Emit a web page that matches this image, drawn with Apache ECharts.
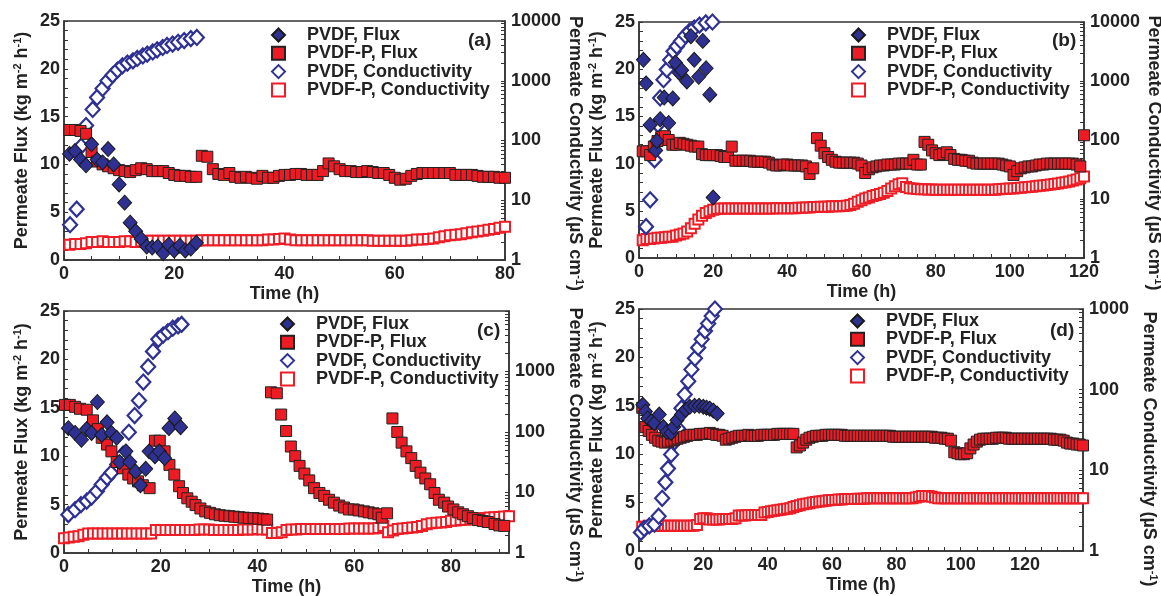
<!DOCTYPE html>
<html><head><meta charset="utf-8">
<script src="https://cdn.jsdelivr.net/npm/echarts@6/dist/echarts.min.js"></script>
<style>html,body{margin:0;padding:0;background:#fff}#c{width:1161px;height:596px}</style>
</head><body><div id="c"></div>
<script>
// ---------- sampling times (h) ----------
const HOURS = [0,1,2,3,4,5,6,7,8,9,10,11,12,13,14,15,16,17,18,19,20,21,22,23,24,25,26,27,28,29,30,31,32,33,34,35,36,37,38,39,40,41,42,43,44,45,46,47,48,49,50,51,52,53,54,55,56,57,58,59,60,61,62,63,64,65,66,67,68,69,70,71,72,73,74,75,76,77,78,79,80,81,82,83,84,85,86,87,88,89,90,91,92,93,94,95,96,97,98,99,100,101,102,103,104,105,106,107,108,109,110,111,112,113,114,115,116,117,118,119,120,121,122,123,124,125,126,127,128,129,130,131,132,133,134,135,136,137,138];

const SERIES_NAMES = ['PVDF, Flux', 'PVDF-P, Flux', 'PVDF, Conductivity', 'PVDF-P, Conductivity'];

// ---------- panel (a) ----------
const aPvdfFluxT = [1,2,3,4,5,6,7,8,9,10,11,12,13,14,15,16,17,18,19,20,21,22,23,24];
const aPvdfFluxV = [11.1,11.4,10.5,9.9,12.1,10.5,10.2,11.6,10.0,7.9,6.0,3.9,3.0,2.2,1.4,1.3,1.4,0.7,1.6,1.0,1.5,1.0,1.2,1.8];
const aPvdfCondT = [1.1,2.3,3.1,4.0,5.2,6.0,7.0,7.9,8.8,9.7,10.6,11.5,12.5,13.3,14.3,15.1,16.1,16.9,17.9,18.7,19.7,20.7,21.8,23.0,24.1];
const aPvdfCondV = [3.9,7.1,80,178,331,525,740,1000,1240,1510,1780,1970,2150,2360,2600,2790,3030,3300,3600,3900,4100,4400,4700,5070,5300];
const aHours = HOURS.slice(1, 81);
const aPvdfPFluxV = [13.6,13.6,13.5,13.2,11.3,10.3,10.0,9.8,9.6,9.4,9.3,9.2,9.4,9.6,9.5,9.3,9.3,9.3,9.1,8.9,8.8,8.8,8.7,8.7,
  10.9,10.8,9.5,9.0,8.9,9.1,8.7,8.6,8.7,8.6,8.5,8.8,8.6,8.6,8.8,8.9,8.9,9.0,9.0,8.9,8.9,8.9,9.3,10.1,9.8,9.5,9.3,9.3,9.2,9.2,
  9.3,9.2,9.1,9.1,8.9,8.6,8.4,8.5,8.8,9.0,9.1,9.1,9.1,9.1,9.1,9.1,8.9,8.9,8.9,8.9,8.8,8.7,8.7,8.7,8.6,8.6];
const aPvdfPCondV = [1.8,1.85,1.85,1.9,
  2.0,2.0,2.05,2.0,2.0,2.0,2.05,2.05,2.0,2.05,2.1,2.1,2.1,2.1,2.1,2.1,2.1,2.1,2.1,2.1,
  2.15,2.15,2.15,2.15,2.15,2.15,2.15,2.15,2.15,2.15,2.15,2.15,2.2,2.2,
  2.25,2.3,2.2,2.15,2.15,2.15,2.15,2.15,2.15,2.15,2.15,2.15,2.15,2.15,2.15,2.15,2.15,2.1,2.1,2.1,2.1,2.1,2.1,2.1,2.15,
  2.2,2.2,2.25,2.3,2.4,2.5,2.6,2.65,2.7,2.8,2.9,3.0,3.1,3.2,3.3,3.45,3.6];

// ---------- panel (b) ----------
const bPvdfFluxT = [1.2,1.9,3.0,4.5,4.8,5.7,6.8,8.0,9.1,9.8,10.9,11.5,12.9,14.0,14.9,16.1,17.2,18.1,19.1,20.0];
const bPvdfFluxV = [21.0,18.5,14.1,11.4,12.4,14.7,17.0,14.3,16.9,20.7,19.6,19.9,18.7,23.5,21.0,19.2,23.0,20.1,17.3,6.4];
const bPvdfCondT = [1.9,3.0,4.2,5.1,5.7,6.6,7.5,8.4,9.3,10.2,11.3,12.5,13.6,14.9,16.3,18.0,19.8];
const bPvdfCondV = [3.4,9.7,46,182,516,1050,1560,2270,3180,3860,4720,5920,6920,7900,8850,9650,10000];
const bHours = HOURS.slice(1, 121);
const bPvdfPFluxV = [11.3,11.3,10.9,11.8,12.4,12.8,12.9,12.5,12.0,12.0,12.2,12.1,12.0,11.9,11.8,11.8,11.0,10.9,10.9,10.9,10.9,10.8,10.7,10.7,11.8,10.3,
  10.3,10.3,10.3,10.3,10.2,10.2,10.2,10.2,10.1,
  9.9,9.8,9.8,9.9,9.9,9.8,9.8,9.8,9.8,9.7,
  8.9,9.5,
  12.7,11.9,11.1,10.7,10.4,10.2,
  10.1,10.1,10.1,10.1,10.1,10.0,
  9.8,9.0,9.4,9.6,9.7,
  9.8,9.8,9.9,9.9,9.9,10.0,10.0,10.0,
  10.0,10.4,9.9,9.9,12.3,12.0,11.4,11.1,10.9,11.0,11.2,10.9,
  10.5,10.4,10.4,10.3,10.3,
  10.1,10.0,10.0,10.0,10.0,10.0,10.0,10.0,9.9,9.8,
  9.7,8.8,9.2,9.5,
  9.6,9.7,9.7,9.8,
  9.9,9.9,10.0,10.0,10.0,10.0,10.0,10.0,10.0,10.0,9.9,9.7,
  13.0];
const bPvdfPCondV = [2.0,
  2.1,2.1,2.15,2.2,2.2,2.25,2.3,2.3,
  2.4,2.5,2.6,2.8,
  3.2,3.8,4.5,5.2,5.8,6.2,6.6,
  6.8,6.9,6.9,6.9,6.9,6.9,6.9,6.9,6.9,6.9,
  6.9,6.9,6.9,6.9,6.9,6.9,7.0,7.0,7.0,7.0,7.0,7.0,7.1,7.1,7.2,7.2,
  7.3,7.3,7.4,7.4,7.4,7.5,7.5,7.5,7.6,7.7,7.9,
  8.3,9.0,9.5,10.2,10.6,11.2,11.7,12.2,12.8,13.7,15.0,16.5,17.8,18.5,16.0,
  15.2,15.0,14.8,14.7,14.6,14.5,14.5,14.4,14.4,14.4,14.3,14.3,14.3,14.3,14.3,14.3,14.3,14.3,14.3,14.3,14.3,14.3,14.4,14.4,
  14.6,14.8,14.9,15.0,15.1,15.3,15.5,
  15.8,16.0,16.2,16.5,16.7,17.0,17.3,
  17.6,18.0,18.4,18.8,19.3,19.8,
  20.5,21.5,22.5,24.0];

// ---------- panel (c) ----------
const cPvdfFluxT = [0.9,2.3,3.6,4.7,5.7,6.9,7.8,8.9,9.8,10.9,11.5,12.8,13.6,14.8,15.8,16.9,17.6,18.8,19.7,20.8,21.7,22.9,24.1];
const cPvdfFluxV = [12.9,12.4,11.7,12.8,12.4,15.6,12.2,13.5,12.4,11.9,9.4,10.5,9.4,8.4,7.0,8.7,10.5,10.0,10.5,9.8,12.9,13.9,13.0];
const cPvdfCondT = [0.9,2.3,3.5,4.7,5.7,6.8,7.8,8.9,9.8,11.0,12.2,13.4,14.6,15.5,16.4,17.4,18.4,19.5,20.5,21.5,22.5,23.6,24.3];
const cPvdfCondV = [4.3,5.2,6.3,7.2,8.4,10.5,13.6,17.6,21.3,29,43,99,187,331,670,1200,2150,3400,4000,4550,5200,5700,6000];
const cPvdfPFluxT = [0.2,1.2,2.3,3.3,4.7,6.0,7.0,7.8,8.9,9.8,10.9,12.2,13.3,14.3,15.3,16.3,17.7,
  18.8,19.8,20.8,21.8,22.8,23.8,24.6,25.5,26.4,27.2,28.2,29.2,30.2,31.2,32.2,33.2,34.2,35.2,36.2,37.2,38.2,39.2,40.2,41.2,42.0,
  42.8,44.0,44.9,45.9,46.9,47.8,48.7,49.7,50.7,51.7,52.8,53.8,54.8,55.8,56.9,57.9,58.9,59.9,60.9,62.0,63.0,64.0,65.0,65.7,66.8,
  67.9,68.9,69.8,70.8,71.8,72.7,73.7,74.7,75.7,76.6,77.5,78.6,79.4,80.5,81.5,82.5,83.5,84.5,85.6,86.6,87.6,89.0,90.0,91.0];
const cPvdfPFluxV = [15.3,15.3,15.1,14.9,14.8,13.7,12.8,11.9,11.2,10.5,9.4,8.75,8.1,7.7,7.4,7.0,6.7,
  11.6,11.6,10.5,9.1,8.1,6.9,6.2,5.65,5.3,4.95,4.6,4.3,4.15,4.0,3.9,3.85,3.8,3.75,3.7,3.65,3.6,3.6,3.55,3.5,3.45,
  16.6,16.5,14.3,12.6,11.0,10.0,9.0,8.2,7.5,6.7,6.2,5.9,5.5,5.2,4.9,4.7,4.5,4.5,4.4,4.3,4.2,4.1,4.0,3.65,4.1,
  13.9,12.5,11.4,10.5,9.8,9.0,8.3,7.7,7.1,6.2,5.5,5.2,4.8,4.5,4.2,4.0,3.8,3.6,3.4,3.3,3.2,3.0,2.85,2.8];
const cHours = HOURS.slice(0, 93);
const cPvdfPCondV = [1.75,1.8,1.85,1.9,2.0,
  2.1,2.1,2.1,2.1,2.1,2.1,2.1,2.1,2.1,2.1,2.1,2.1,2.1,2.1,
  2.4,2.4,2.4,2.4,2.4,2.4,2.4,2.4,2.4,2.45,2.45,2.45,2.4,2.4,2.4,2.4,2.4,2.4,2.45,2.45,2.45,2.5,2.45,2.45,
  2.15,2.15,2.2,
  2.4,2.45,2.45,2.5,2.5,2.5,2.5,2.5,2.5,2.5,2.5,2.5,2.5,2.55,2.55,2.55,2.55,2.55,2.55,
  2.6,2.8,2.2,2.35,
  2.5,2.55,2.6,2.65,2.7,2.8,
  3.0,3.1,3.15,3.2,3.25,
  3.4,3.45,3.5,3.55,3.6,3.65,3.7,
  3.8,3.85,3.9,3.95,4.0,4.05];

// ---------- panel (d) ----------
const dPvdfFluxT = [1.2,2.0,2.7,3.8,4.8,6.3,7.6,8.7,10.0,10.8,11.8,13.2,14.5,15.8,17.3,18.7,20.0,21.0,22.0,23.1,24.3];
const dPvdfFluxV = [15.1,14.4,13.7,13.4,13.2,14.1,12.8,12.3,12.2,12.8,13.5,14.1,14.6,14.9,15.0,15.0,14.9,14.8,14.7,14.5,14.2];
const dPvdfCondT = [0.6,1.6,3.2,4.8,6.1,7.2,8.2,9.0,10.0,11.1,12.1,13.2,14.2,15.3,16.3,17.4,18.4,19.5,20.5,21.5,22.6,23.6];
const dPvdfCondV = [1.7,1.9,2.05,2.15,2.7,4.5,7.1,10.5,15.7,22.6,33,59,87,127,178,245,332,422,535,660,820,1000];
const dHours = HOURS.slice(1, 139);
const dPvdfPFluxV = [14.8,12.8,12.4,12.0,11.7,11.4,11.3,11.2,11.3,11.4,11.5,11.6,11.7,11.8,11.9,
  12.0,12.0,12.0,12.1,12.1,12.1,12.2,12.1,12.0,12.0,11.9,
  11.5,11.6,11.7,
  11.8,11.9,11.9,11.9,12.0,11.9,11.9,11.9,12.0,12.0,12.0,12.0,12.0,12.1,12.1,12.1,12.1,12.1,
  12.1,10.7,10.9,11.2,11.5,11.7,
  11.8,11.9,11.9,11.9,12.0,12.0,12.0,12.0,12.0,12.0,
  11.9,11.9,11.9,11.9,11.9,11.9,11.9,11.9,11.9,11.9,
  11.9,11.9,11.9,11.9,11.9,11.8,11.8,11.8,11.8,11.8,
  11.8,11.8,11.8,11.8,11.8,11.8,11.8,11.8,11.7,11.7,
  11.7,11.6,11.6,
  11.4,10.2,10.1,10.0,10.0,10.1,10.6,11.0,11.3,
  11.5,11.6,11.6,11.6,11.6,11.7,11.7,11.7,11.7,11.6,
  11.6,11.6,11.6,11.6,11.6,11.6,11.6,11.6,11.6,11.6,
  11.6,11.6,11.6,11.5,11.5,11.5,11.4,
  11.2,11.1,11.1,11.0,11.0,10.9];
const dPvdfPCondV = [2.0,2.0,2.05,2.05,2.05,2.05,2.05,2.05,2.05,2.05,2.05,2.05,2.05,2.05,2.05,2.05,2.05,2.1,
  2.5,2.55,2.55,
  2.45,2.45,2.45,2.45,2.5,2.5,2.5,2.5,2.55,
  2.75,2.75,2.75,2.8,2.8,2.8,2.8,2.8,
  3.0,3.05,3.1,3.15,3.2,3.25,3.3,3.35,3.4,
  3.5,3.6,3.7,3.8,3.85,3.9,4.0,4.05,
  4.1,4.15,4.2,4.25,4.3,4.3,4.35,4.35,4.4,4.4,4.4,4.4,4.45,4.45,4.45,4.5,4.5,4.5,
  4.5,4.5,4.5,4.5,4.5,4.5,4.5,4.5,4.5,4.5,4.5,4.5,
  4.6,4.7,4.8,4.8,4.8,4.7,4.6,4.5,4.5,
  4.5,4.5,4.5,4.5,4.5,4.5,4.5,4.5,4.5,4.5,4.5,4.5,4.5,4.5,4.5,4.5,4.5,4.5,4.5,4.5,4.5,4.5,
  4.5,4.5,4.5,4.5,4.5,4.5,4.5,4.5,4.5,4.5,4.5,4.5,4.5,4.5,4.5,4.5,4.5,4.5,4.5,4.5,4.5,4.5];

// ---------- axis tick labels ----------
const timeLabelsA = [0,20,40,60,80];
const timeLabelsB = [0,20,40,60,80,100,120];
const timeLabelsC = [0,20,40,60,80];
const timeLabelsD = [0,20,40,60,80,100,120];
const fluxLabels = [0,5,10,15,20,25];
const condLabels4 = [1,10,100,1000,10000];
const condLabelsC = [1,10,100,1000];
const condLabels3 = [1,10,100,1000];

// ---------- build ----------
const FONT = "'Liberation Sans', Arial, Helvetica, sans-serif";
const INK = '#222';
const LINE = '#333';
function pairs(ts, vs) { return ts.map((t, i) => [t, vs[i]]); }
function steps(a, b, s) { const r = []; for (let v = a; v <= b + 1e-9; v += s) r.push(v); return r; }
function logSteps(max) { const r = []; for (let d = 1; d < max; d *= 10) for (let k = 1; k < 10; k++) r.push(k * d); r.push(max); return r; }

const panels = [
  { grid: {left: 64, top: 21, width: 441, height: 239}, xMax: 80, xLabels: timeLabelsA, condMax: 10000, condLabels: condLabels4,
    legend: [271, 26], tag: '(a)', tagPos: [468, 31], rShift: 26,
    pf: [aPvdfFluxT, aPvdfFluxV], ppf: [aHours, aPvdfPFluxV], pc: [aPvdfCondT, aPvdfCondV], ppc: [aHours, aPvdfPCondV] },
  { grid: {left: 639, top: 22, width: 445, height: 236}, xMax: 120, xLabels: timeLabelsB, condMax: 10000, condLabels: condLabels4,
    legend: [851, 26], tag: '(b)', tagPos: [1052, 31], rShift: 26,
    pf: [bPvdfFluxT, bPvdfFluxV], ppf: [bHours, bPvdfPFluxV], pc: [bPvdfCondT, bPvdfCondV], ppc: [bHours, bPvdfPCondV] },
  { grid: {left: 64, top: 311, width: 445, height: 242}, xMax: 92, xLabels: timeLabelsC, condMax: 10000, condLabels: condLabelsC,
    legend: [280, 315], tag: '(c)', tagPos: [477, 321], rShift: 26,
    pf: [cPvdfFluxT, cPvdfFluxV], ppf: [cPvdfPFluxT, cPvdfPFluxV], pc: [cPvdfCondT, cPvdfCondV], ppc: [cHours, cPvdfPCondV] },
  { grid: {left: 639, top: 309, width: 444, height: 242}, xMax: 138, xLabels: timeLabelsD, condMax: 1000, condLabels: condLabels3,
    legend: [850, 312], tag: '(d)', tagPos: [1050, 321], rShift: 38,
    pf: [dPvdfFluxT, dPvdfFluxV], ppf: [dHours, dPvdfPFluxV], pc: [dPvdfCondT, dPvdfCondV], ppc: [dHours, dPvdfPCondV] }
];

const labelStyle = { fontFamily: FONT, fontSize: 18, fontWeight: 'bold', color: INK };
const nameStyle = (extra) => Object.assign({
  fontFamily: FONT, fontSize: 18, fontWeight: 'bold', color: INK, lineHeight: 20,
  rich: { s: { fontFamily: FONT, fontSize: 11, fontWeight: 'bold', color: INK, lineHeight: 11, verticalAlign: 'top' } }
}, extra || {});

const grid = [], xAxis = [], yAxis = [], series = [], legend = [], title = [];
panels.forEach((p, i) => {
  grid.push(Object.assign({ show: true, borderColor: LINE, borderWidth: 1.5, backgroundColor: 'transparent', containLabel: false, outerBoundsMode: 'none' }, p.grid));
  xAxis.push({
    type: 'value', gridIndex: i, min: 0, max: p.xMax,
    name: 'Time (h)', nameLocation: 'middle', nameGap: 19, nameTextStyle: nameStyle(),
    axisLine: { lineStyle: { color: LINE, width: 1.5 } },
    axisTick: { inside: true, length: 4, customValues: steps(0, p.xMax, 5), lineStyle: { color: LINE, width: 1 } },
    axisLabel: Object.assign({ margin: 5, customValues: p.xLabels, formatter: v => String(v) }, labelStyle),
    splitLine: { show: false }
  });
  yAxis.push({
    type: 'value', gridIndex: i, min: 0, max: 25, position: 'left',
    name: 'Permeate Flux (kg m{s|-2} h{s|-1})', nameLocation: 'middle', nameRotate: 90, nameGap: 32, nameTextStyle: nameStyle(),
    axisLine: { lineStyle: { color: LINE, width: 1.5 } },
    axisTick: { inside: true, length: 4, customValues: steps(0, 25, 1), lineStyle: { color: LINE, width: 1 } },
    axisLabel: Object.assign({ margin: 4, customValues: fluxLabels, formatter: v => String(v) }, labelStyle),
    splitLine: { show: false }
  });
  yAxis.push({
    type: 'log', logBase: 10, gridIndex: i, min: 1, max: p.condMax, position: 'right',
    name: 'Permeate Conductivity (\u00b5S cm{s|-1})', nameLocation: 'middle', nameRotate: -90, nameGap: 56,
    nameTextStyle: nameStyle({ padding: [0, 0, 0, p.rShift] }),
    axisLine: { lineStyle: { color: LINE, width: 1.5 } },
    axisTick: { inside: true, length: 4, customValues: logSteps(p.condMax), lineStyle: { color: LINE, width: 1 } },
    axisLabel: Object.assign({ margin: 6, customValues: p.condLabels, formatter: v => String(Math.round(v)) }, labelStyle),
    splitLine: { show: false }
  });
  const common = { type: 'scatter', xAxisIndex: i, silent: true, emphasis: { disabled: true }, animation: false };
  series.push(Object.assign({}, common, { name: SERIES_NAMES[3], yAxisIndex: 2 * i + 1, data: pairs(p.ppc[0], p.ppc[1]),
    symbol: 'rect', symbolSize: 10, itemStyle: { color: '#ffffff', borderColor: '#EE1D25', borderWidth: 2, opacity: 1 } }));
  series.push(Object.assign({}, common, { name: SERIES_NAMES[2], yAxisIndex: 2 * i + 1, data: pairs(p.pc[0], p.pc[1]),
    symbol: 'diamond', symbolSize: [14, 15], itemStyle: { color: '#ffffff', borderColor: '#2E3192', borderWidth: 2.2, opacity: 1 } }));
  series.push(Object.assign({}, common, { name: SERIES_NAMES[1], yAxisIndex: 2 * i, data: pairs(p.ppf[0], p.ppf[1]),
    symbol: 'rect', symbolSize: 11, itemStyle: { color: '#ED1C24', borderColor: '#222', borderWidth: 1, opacity: 1 } }));
  series.push(Object.assign({}, common, { name: SERIES_NAMES[0], yAxisIndex: 2 * i, data: pairs(p.pf[0], p.pf[1]),
    symbol: 'diamond', symbolSize: [14, 15], itemStyle: { color: '#2E3192', borderColor: '#1a1a1a', borderWidth: 1, opacity: 1 } }));
  legend.push({
    left: p.legend[0], top: p.legend[1], orient: 'vertical', padding: 0, itemGap: 0.3, itemWidth: 13, itemHeight: 13,
    selectedMode: false, data: SERIES_NAMES.slice(),
    textStyle: { fontFamily: FONT, fontSize: 18, fontWeight: 'bold', color: INK, lineHeight: 18, padding: [0, 0, 0, 17] }
  });
  title.push({ text: p.tag, left: p.tagPos[0], top: p.tagPos[1], padding: 0,
    textStyle: { fontFamily: FONT, fontSize: 19, fontWeight: 'bold', color: INK } });
});

const chart = echarts.init(document.getElementById('c'), null, { renderer: 'canvas' });
chart.setOption({ backgroundColor: '#ffffff', animation: false, grid, xAxis, yAxis, series, legend, title });
</script></body></html>
